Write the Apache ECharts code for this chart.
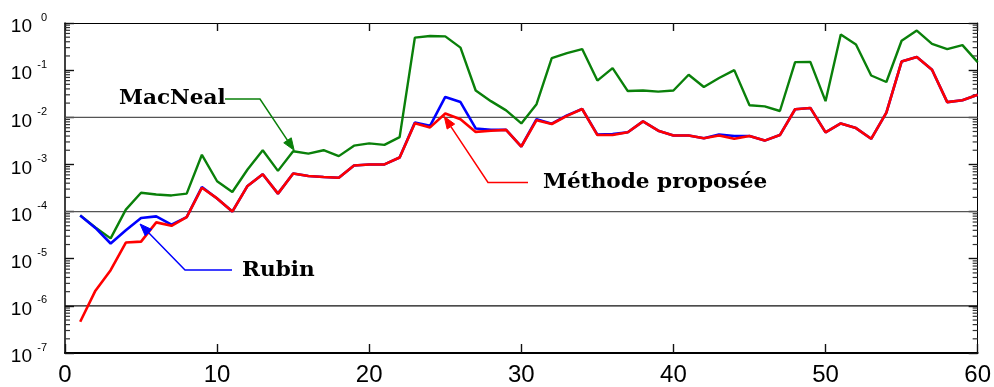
<!DOCTYPE html>
<html>
<head>
<meta charset="utf-8">
<script src="https://cdn.jsdelivr.net/npm/echarts@6/dist/echarts.min.js"></script>
<style>
  html, body { margin: 0; padding: 0; background: #fff; }
  #chart { width: 994px; height: 387px; }
</style>
</head>
<body>
<div id="chart"></div>
<script>
// Index of each computed mode (x axis)
const modeIndex = [
  1, 2, 3, 4, 5, 6, 7, 8, 9, 10,
  11, 12, 13, 14, 15, 16, 17, 18, 19, 20,
  21, 22, 23, 24, 25, 26, 27, 28, 29, 30,
  31, 32, 33, 34, 35, 36, 37, 38, 39, 40,
  41, 42, 43, 44, 45, 46, 47, 48, 49, 50,
  51, 52, 53, 54, 55, 56, 57, 58, 59, 60
];

// Relative error per mode, MacNeal reduction
const macNeal = [
  8.3e-5, 4.6e-5, 2.7e-5, 1.1e-4, 2.5e-4, 2.3e-4, 2.2e-4, 2.4e-4, 1.6e-3, 4.4e-4,
  2.6e-4, 7.8e-4, 2.0e-3, 7.3e-4, 1.9e-3, 1.7e-3, 2.0e-3, 1.5e-3, 2.5e-3, 2.8e-3,
  2.6e-3, 3.8e-3, 0.49, 0.53, 0.52, 0.30, 0.037, 0.022, 0.014, 7.4e-3,
  0.019, 0.18, 0.23, 0.28, 0.060, 0.11, 0.036, 0.037, 0.035, 0.037,
  0.080, 0.044, 0.068, 0.10, 0.018, 0.017, 0.0136, 0.148, 0.15, 0.022,
  0.57, 0.35, 0.077, 0.056, 0.42, 0.69, 0.36, 0.28, 0.34, 0.148
];

// Relative error per mode, Rubin reduction
const rubin = [
  8.3e-5, 4.5e-5, 2.1e-5, 4.0e-5, 7.3e-5, 7.9e-5, 5.3e-5, 7.6e-5, 3.3e-4, 1.9e-4,
  1.0e-4, 3.5e-4, 6.2e-4, 2.4e-4, 6.4e-4, 5.7e-4, 5.4e-4, 5.2e-4, 9.5e-4, 1.0e-3,
  1.0e-3, 1.4e-3, 7.7e-3, 6.6e-3, 0.027, 0.021, 5.8e-3, 5.4e-3, 5.4e-3, 2.4e-3,
  9.1e-3, 7.3e-3, 0.011, 0.015, 4.3e-3, 4.4e-3, 4.8e-3, 8.2e-3, 5.2e-3, 4.1e-3,
  4.1e-3, 3.6e-3, 4.3e-3, 4.0e-3, 4.0e-3, 3.2e-3, 4.2e-3, 0.0148, 0.0158, 4.8e-3,
  7.4e-3, 5.9e-3, 3.5e-3, 0.0126, 0.152, 0.19, 0.102, 0.021, 0.023, 0.030
];

// Relative error per mode, proposed method
const proposed = [
  4.6e-7, 2.1e-6, 5.7e-6, 2.2e-5, 2.3e-5, 5.9e-5, 5.0e-5, 7.6e-5, 3.2e-4, 1.9e-4,
  1.0e-4, 3.5e-4, 6.2e-4, 2.4e-4, 6.4e-4, 5.7e-4, 5.4e-4, 5.2e-4, 9.5e-4, 1.0e-3,
  1.0e-3, 1.4e-3, 7.5e-3, 6.1e-3, 0.012, 9.1e-3, 4.9e-3, 5.2e-3, 5.4e-3, 2.4e-3,
  8.7e-3, 7.2e-3, 0.0107, 0.015, 4.2e-3, 4.2e-3, 4.8e-3, 8.2e-3, 5.2e-3, 4.1e-3,
  4.1e-3, 3.6e-3, 4.1e-3, 3.5e-3, 4.0e-3, 3.2e-3, 4.2e-3, 0.0148, 0.0158, 4.8e-3,
  7.4e-3, 5.9e-3, 3.5e-3, 0.0126, 0.152, 0.19, 0.102, 0.021, 0.023, 0.030
];

// Decade exponents shown on the y axis (10^exp)
const yExponents = [0, -1, -2, -3, -4, -5, -6, -7];
// Mantissas of the minor ticks inside each decade
const minorMantissas = [2, 3, 4, 5, 6, 7, 8, 9];
// x-axis tick labels
const xTicks = [0, 10, 20, 30, 40, 50, 60];
// Powers of ten that carry a horizontal reference line
const refLines = [1e-2, 1e-4, 1e-6];

const seriesNames = ['MacNeal', 'Rubin', 'Méthode proposée'];
const seriesColors = ['#0a800a', '#0000ff', '#ff0000'];

const chart = echarts.init(document.getElementById('chart'), null, { renderer: 'canvas' });

function pairs(values) {
  return values.map((v, i) => [modeIndex[i], v]);
}

function expLabel(value) {
  const e = Math.round(Math.log10(value));
  if (yExponents.indexOf(e) < 0) return '';
  return '{b|10}{e|' + e + '}';
}

const yMin = Math.pow(10, Math.min.apply(null, yExponents));
const yMax = Math.pow(10, Math.max.apply(null, yExponents));
const xMin = xTicks[0];
const xMax = xTicks[xTicks.length - 1];

// Minor tick positions on both vertical frame edges: [x edge, value, direction]
const minorTicks = [];
yExponents.forEach(e => {
  if (e === Math.max.apply(null, yExponents)) return;
  minorMantissas.forEach(m => {
    const v = m * Math.pow(10, e);
    minorTicks.push([xMin, v, 1]);
    minorTicks.push([xMax, v, -1]);
  });
});

const grid = { left: 65, right: 8, top: 23, bottom: 30, containLabel: false };

function tickStyle() { return { color: '#111', width: 1.4 }; }

const option = {
  animation: false,
  backgroundColor: '#ffffff',
  grid: grid,
  xAxis: [
    {
      type: 'value',
      min: xMin,
      max: xMax,
      interval: xTicks[1] - xTicks[0],
      position: 'bottom',
      axisLine: { show: true, onZero: false, lineStyle: { color: '#000', width: 2 } },
      axisTick: { show: true, inside: true, length: 9, lineStyle: tickStyle() },
      axisLabel: {
        show: true, margin: 10, color: '#000',
        fontFamily: 'Liberation Sans', fontSize: 24,
        formatter: v => (xTicks.indexOf(v) >= 0 ? String(v) : '')
      },
      splitLine: { show: false }
    },
    {
      type: 'value',
      min: xMin,
      max: xMax,
      interval: xTicks[1] - xTicks[0],
      position: 'top',
      axisLine: { show: true, onZero: false, lineStyle: { color: '#000', width: 1 } },
      axisTick: { show: true, inside: true, length: 8, lineStyle: tickStyle() },
      axisLabel: { show: false },
      splitLine: { show: false }
    }
  ],
  yAxis: [
    {
      type: 'log',
      logBase: 10,
      min: yMin,
      max: yMax,
      interval: 1,
      splitNumber: 7,
      position: 'left',
      axisLine: { show: true, onZero: false, lineStyle: { color: '#000', width: 1.5 } },
      axisTick: { show: true, inside: true, length: 9, lineStyle: tickStyle() },
      axisLabel: {
        show: true,
        margin: 18,
        align: 'right',
        verticalAlign: 'middle',
        padding: [8, 0, 0, 0],
        formatter: expLabel,
        rich: {
          b: { fontFamily: 'Liberation Sans', fontSize: 19, lineHeight: 30, color: '#000' },
          e: { fontFamily: 'Liberation Sans', fontSize: 11, lineHeight: 11, width: 15,
               align: 'right', verticalAlign: 'top', color: '#000' }
        }
      },
      splitLine: { show: false }
    },
    {
      type: 'log',
      logBase: 10,
      min: yMin,
      max: yMax,
      interval: 1,
      splitNumber: 7,
      position: 'right',
      axisLine: { show: true, onZero: false, lineStyle: { color: '#000', width: 1 } },
      axisTick: { show: true, inside: true, length: 9, lineStyle: tickStyle() },
      axisLabel: { show: false },
      splitLine: { show: false }
    }
  ],
  series: [
    {
      name: 'minorTicks', type: 'custom', data: minorTicks,
      dimensions: ['edge', 'value', 'dir'],
      xAxisIndex: 0, yAxisIndex: 0, silent: true, clip: false, z: 1,
      encode: { x: 'edge', y: 'value' },
      renderItem: (params, api) => {
        const p = api.coord([api.value(0), api.value(1)]);
        const dir = api.value(2);
        return {
          type: 'line',
          shape: { x1: p[0], y1: p[1], x2: p[0] + dir * 5, y2: p[1] },
          style: { stroke: '#333', lineWidth: 1.2 }
        };
      }
    }
  ].concat(refLines.map((v, k) => ({
    name: 'ref' + k, type: 'line', silent: true, z: 1,
    data: [[xMin, v], [xMax, v]],
    symbol: 'none',
    lineStyle: { color: k === refLines.length - 1 ? '#111' : '#555', width: 1.3 }
  }))).concat([
    {
      name: seriesNames[0], type: 'line', data: pairs(macNeal),
      symbol: 'none', lineStyle: { color: seriesColors[0], width: 2.4 }, z: 2
    },
    {
      name: seriesNames[1], type: 'line', data: pairs(rubin),
      symbol: 'none', lineStyle: { color: seriesColors[1], width: 2.6 }, z: 3
    },
    {
      name: seriesNames[2], type: 'line', data: pairs(proposed),
      symbol: 'none', lineStyle: { color: seriesColors[2], width: 2.6 }, z: 4
    }
  ])
};

chart.setOption(option);

// Callout labels: a bold caption, a two-segment leader line and an arrowhead
// pointing at one point of the matching curve.
function arrowHead(tip, from, len, half) {
  const dx = tip[0] - from[0], dy = tip[1] - from[1];
  const d = Math.sqrt(dx * dx + dy * dy);
  const ux = dx / d, uy = dy / d;
  const bx = tip[0] - ux * len, by = tip[1] - uy * len;
  return [tip, [bx - uy * half, by + ux * half], [bx + uy * half, by - ux * half]];
}

const callouts = [
  { series: 0, idx: 14, tipOff: [1, -1], text: seriesNames[0], textX: 119, textY: 99, elbow: [260, 99], start: [225, 99] },
  { series: 1, idx: 4, tipOff: [-1, 6], text: seriesNames[1], textX: 242, textY: 271, elbow: [185, 270], start: [232, 270] },
  { series: 2, idx: 24, tipOff: [-1, 3], text: seriesNames[2], textX: 543, textY: 183, elbow: [488, 182.5], start: [528, 182.5] }
];
const seriesData = [macNeal, rubin, proposed];

const graphics = [];
callouts.forEach(c => {
  const p = chart.convertToPixel({ gridIndex: 0 }, [modeIndex[c.idx], seriesData[c.series][c.idx]]);
  const tip = [p[0] + c.tipOff[0], p[1] + c.tipOff[1]];
  const col = seriesColors[c.series];
  const head = arrowHead(tip, c.elbow, 12, 4.5);
  const lineEnd = [(head[1][0] + head[2][0]) / 2, (head[1][1] + head[2][1]) / 2];
  graphics.push({
    type: 'polyline', z: 10,
    shape: { points: [c.start, c.elbow, lineEnd] },
    style: { stroke: col, lineWidth: 1.5, fill: null }
  });
  graphics.push({
    type: 'polygon', z: 10,
    shape: { points: head },
    style: { fill: col, stroke: col, lineWidth: 1 }
  });
  graphics.push({
    type: 'text', z: 11,
    x: c.textX, y: c.textY,
    scaleX: 1.08,
    style: {
      text: c.text, fill: '#000',
      font: 'bold 20px "DejaVu Serif"',
      align: 'left', verticalAlign: 'middle'
    }
  });
});
chart.setOption({ graphic: graphics });
</script>
</body>
</html>
